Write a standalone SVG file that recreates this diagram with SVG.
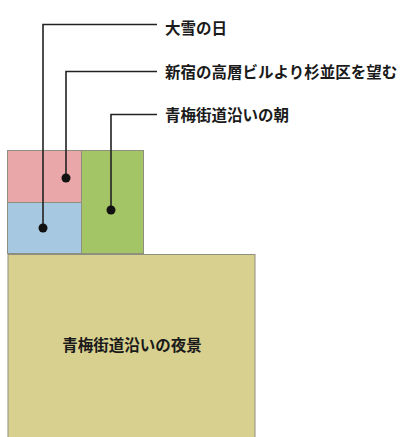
<svg xmlns="http://www.w3.org/2000/svg" width="406" height="437" viewBox="0 0 406 437">
<style>
.box{stroke:#8f8f80;stroke-width:1}
.lbl{font-family:"Noto Sans CJK JP","Noto Sans",sans-serif;font-size:15.5px;font-weight:bold;fill:#1a1a1a}
.ln{fill:none;stroke:#222;stroke-width:1.6}
.dot{fill:#111}
</style>
<rect width="406" height="437" fill="#fff"/>
<g id="yakei">
<rect class="box" x="8" y="254.5" width="247" height="183" fill="#d8d08e"/>
<text class="lbl" x="132" y="351" text-anchor="middle">青梅街道沿いの夜景</text>
</g>
<g id="pink">
<rect class="box" x="7.5" y="150.5" width="74" height="52" fill="#eaa7a9"/>
</g>
<g id="blue">
<rect class="box" x="7.5" y="202.5" width="74" height="51" fill="#a6c8e0"/>
</g>
<g id="green">
<rect class="box" x="81.5" y="150.5" width="62" height="103" fill="#a3c566"/>
</g>
<g id="label1"><text class="lbl" x="165" y="34">大雪の日</text></g>
<g id="label2"><text class="lbl" x="165" y="78">新宿の高層ビルより杉並区を望む</text></g>
<g id="label3"><text class="lbl" x="165" y="121">青梅街道沿いの朝</text></g>
<g id="connectors">
<polyline class="ln" points="157,24.5 43,24.5 43,228"/>
<circle class="dot" cx="43" cy="228" r="4.5"/>
<polyline class="ln" points="157,71.5 66,71.5 66,178"/>
<circle class="dot" cx="66" cy="178" r="4.5"/>
<polyline class="ln" points="157,114.5 111,114.5 111,210"/>
<circle class="dot" cx="111" cy="210" r="4.5"/>
</g>
</svg>
